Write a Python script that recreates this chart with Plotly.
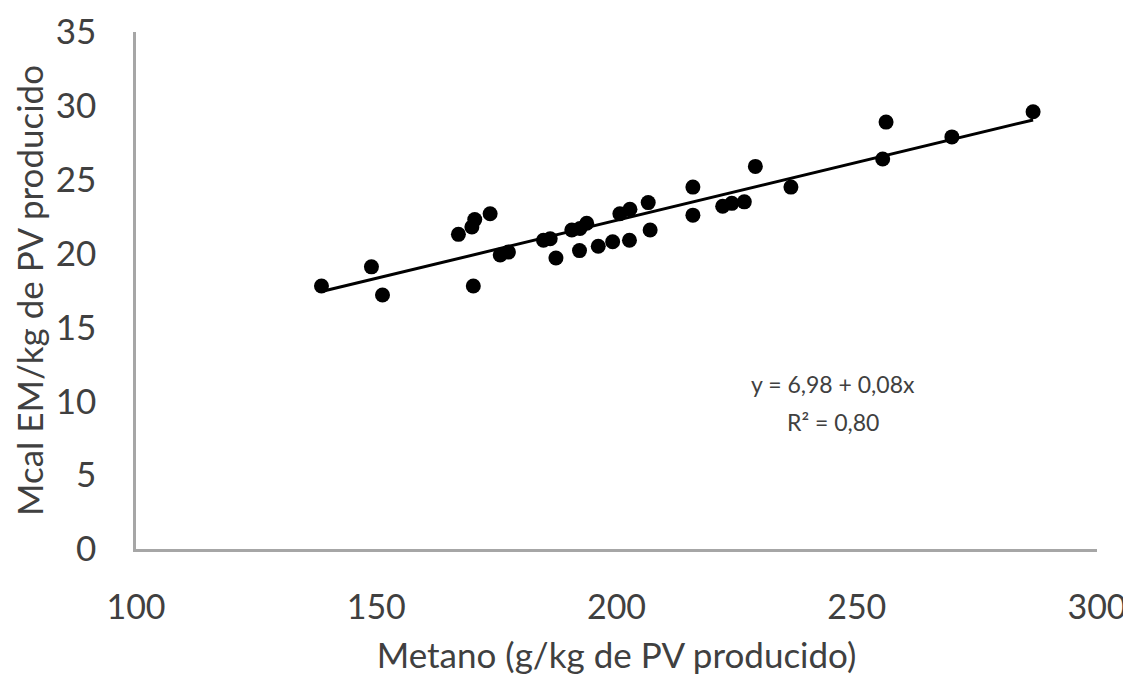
import numpy as np
import plotly.graph_objects as go

metano = [138.6, 149.0, 151.3, 167.1, 169.9, 170.5, 173.7, 170.2, 175.8, 177.5,
          184.8, 186.2, 187.4, 190.7, 192.4, 193.8, 192.3, 196.2, 199.2, 202.7,
          200.7, 202.8, 206.6, 207.0, 215.9, 215.9, 222.1, 224.0, 226.6, 228.9,
          236.3, 255.4, 256.1, 269.8, 286.7]
mcal = [17.8, 19.1, 17.2, 21.3, 21.8, 22.3, 22.7, 17.8, 19.9, 20.1,
        20.9, 21.0, 19.7, 21.6, 21.7, 22.05, 20.2, 20.5, 20.8, 20.9,
        22.7, 23.0, 23.45, 21.6, 24.5, 22.6, 23.2, 23.4, 23.5, 25.9,
        24.5, 26.4, 28.9, 27.9, 29.6]

eq_line1 = "y = 6,98 + 0,08x"
eq_line2 = "R² = 0,80"
x_title = "Metano (g/kg de PV producido)"
y_title = "Mcal EM/kg de PV producido"

slope, intercept = np.polyfit(metano, mcal, 1)
xl = np.array([min(metano), max(metano)])
yl = intercept + slope * xl

font = "Lato, 'Open Sans', sans-serif"
txt = "#404040"
fig = go.Figure()
fig.add_trace(go.Scatter(x=xl, y=yl, mode="lines",
                         line=dict(color="black", width=3), showlegend=False))
fig.add_trace(go.Scatter(x=metano, y=mcal, mode="markers",
                         marker=dict(color="black", size=15), showlegend=False))
fig.add_annotation(x=245, y=11.15, xref="x", yref="y", text=eq_line1, showarrow=False,
                   font=dict(family=font, size=23, color=txt))
fig.add_annotation(x=245, y=8.6, xref="x", yref="y", text=eq_line2, showarrow=False,
                   font=dict(family=font, size=23, color=txt))
fig.update_layout(
    width=1123, height=667,
    margin=dict(l=128, r=34, t=24, b=126),
    paper_bgcolor="white", plot_bgcolor="white",
    font=dict(family=font, color=txt),
    xaxis=dict(range=[100, 300], tickvals=[100, 150, 200, 250, 300], automargin=False,
               showgrid=False, zeroline=False, showline=True, linecolor="#a6a6a6",
               linewidth=2.5, ticks="", ticklabelstandoff=26,
               tickfont=dict(size=34, color=txt),
               title=dict(text=x_title, font=dict(size=35, color=txt), standoff=20)),
    yaxis=dict(range=[0, 35], tickvals=[0, 5, 10, 15, 20, 25, 30, 35], automargin=False,
               showgrid=False, zeroline=False, showline=True, linecolor="#a6a6a6",
               linewidth=2.5, ticks="", ticklabelstandoff=30,
               tickfont=dict(size=35, color=txt),
               title=dict(text=y_title, font=dict(size=35, color=txt), standoff=12)),
)
fig.write_html("out.html")
